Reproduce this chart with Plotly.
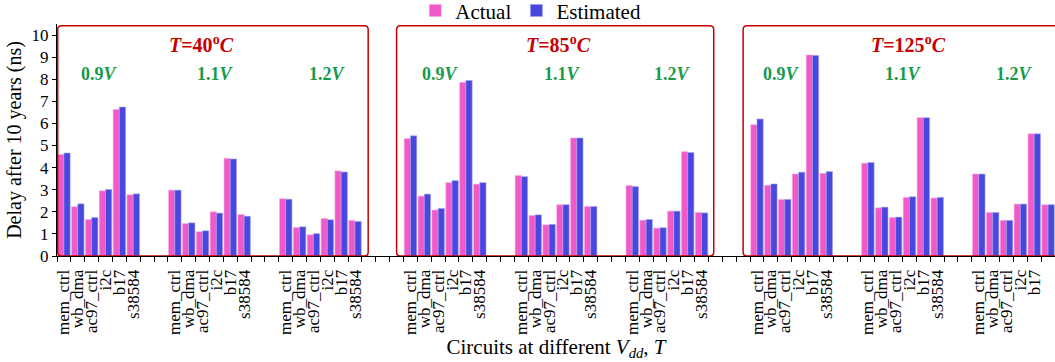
import plotly.graph_objects as go

# Circuits, operating points and measured/estimated delays (ns)
circuits = ["mem_ctrl", "wb_dma", "ac97_ctrl", "i2c", "b17", "s38584"]
temperatures = ["40", "85", "125"]
voltages = ["0.9", "1.1", "1.2"]

actual_40 = [
    [4.59, 2.23, 1.65, 2.95, 6.63, 2.77],
    [2.98, 1.47, 1.10, 2.00, 4.42, 1.88],
    [2.59, 1.29, 0.96, 1.70, 3.85, 1.61],
]
estimated_40 = [
    [4.66, 2.36, 1.74, 3.01, 6.74, 2.81],
    [2.98, 1.50, 1.14, 1.94, 4.39, 1.80],
    [2.57, 1.32, 1.01, 1.64, 3.80, 1.56],
]
actual_85 = [
    [5.31, 2.71, 2.08, 3.32, 7.86, 3.25],
    [3.64, 1.83, 1.41, 2.32, 5.34, 2.24],
    [3.19, 1.62, 1.26, 2.03, 4.72, 1.97],
]
estimated_85 = [
    [5.44, 2.80, 2.15, 3.41, 7.94, 3.32],
    [3.59, 1.86, 1.43, 2.32, 5.34, 2.24],
    [3.14, 1.65, 1.28, 2.03, 4.68, 1.95],
]
actual_125 = [
    [5.94, 3.20, 2.56, 3.71, 9.10, 3.74],
    [4.20, 2.18, 1.74, 2.65, 6.26, 2.62],
    [3.71, 1.97, 1.61, 2.35, 5.53, 2.32],
]
estimated_125 = [
    [6.20, 3.26, 2.56, 3.79, 9.07, 3.82],
    [4.23, 2.21, 1.76, 2.68, 6.26, 2.65],
    [3.71, 1.97, 1.61, 2.35, 5.53, 2.32],
]
y_ticks = list(range(0, 11))

actual = [actual_40, actual_85, actual_125]
estimated = [estimated_40, estimated_85, estimated_125]

# slot layout on the category axis: 2 empty slots between voltage groups,
# 3 empty slots between temperature groups
V_STRIDE = len(circuits) + 2
T_STRIDE = 3 * V_STRIDE + 1
N_SLOTS = 3 * T_STRIDE - 3

xs, ya, ye, labels_x, labels_t = [], [], [], [], []
for ti in range(len(temperatures)):
    for vi in range(len(voltages)):
        for ci, name in enumerate(circuits):
            pos = ti * T_STRIDE + vi * V_STRIDE + ci
            xs.append(pos)
            ya.append(actual[ti][vi][ci])
            ye.append(estimated[ti][vi][ci])
            labels_x.append(pos)
            labels_t.append(name)

SERIF = "Liberation Serif"
PINK = "#F05AC8"
BLUE = "#4848DF"
RED = "#C80000"
GREEN = "#169A4C"

fig = go.Figure()
fig.add_trace(go.Bar(x=xs, y=ya, name="Actual", marker=dict(color=PINK, line=dict(color="#F8A8E2", width=0.6))))
fig.add_trace(go.Bar(x=xs, y=ye, name="Estimated", marker=dict(color=BLUE, line=dict(color="#A0A0F0", width=0.6))))

boundaries = [k - 0.5 for k in range(N_SLOTS + 1)]

fig.update_layout(
    width=1055, height=362,
    margin=dict(l=57, r=0, t=24, b=106, autoexpand=False),
    paper_bgcolor="white", plot_bgcolor="white",
    barmode="group", bargap=0.1, bargroupgap=0,
    font=dict(family=SERIF, color="black", size=17),
    legend=dict(orientation="h", x=0.359, xanchor="left", y=1.145, yanchor="top",
                font=dict(size=21, family=SERIF), bgcolor="rgba(0,0,0,0)",
                itemwidth=30, tracegroupgap=0),
    showlegend=True,
)

fig.update_xaxes(
    range=[-0.5, N_SLOTS - 0.5],
    tickmode="array", tickvals=labels_x, ticktext=labels_t, tickangle=-90,
    ticks="outside", ticklen=6, tickcolor="rgba(0,0,0,0)",
    tickfont=dict(size=17, family=SERIF),
    minor=dict(tickmode="array", tickvals=boundaries, ticks="outside", ticklen=5,
               tickcolor="black", tickwidth=1, showgrid=False),
    showline=True, linecolor="black", linewidth=1, showgrid=False, zeroline=False,
    title=dict(text="Circuits at different <i>V</i><sub><i>dd</i></sub>, <i>T</i>",
               font=dict(size=21, family=SERIF), standoff=1),
)
fig.update_yaxes(
    range=[0, 10.5], tickmode="array", tickvals=y_ticks,
    ticks="outside", ticklen=4, tickcolor="black",
    tickfont=dict(size=17, family=SERIF),
    showline=True, linecolor="black", linewidth=1, showgrid=False, zeroline=False,
    title=dict(text="Delay after 10 years (ns)", font=dict(size=20, family=SERIF), standoff=4),
)

# rounded frames around each temperature group
def rounded_rect(x0, x1, y0, y1, rx=0.28, ry=0.17):
    return (f"M {x0 + rx},{y0} L {x1 - rx},{y0} Q {x1},{y0} {x1},{y0 + ry} "
            f"L {x1},{y1 - ry} Q {x1},{y1} {x1 - rx},{y1} L {x0 + rx},{y1} "
            f"Q {x0},{y1} {x0},{y1 - ry} L {x0},{y0 + ry} Q {x0},{y0} {x0 + rx},{y0} Z")

frames = [(-0.45, 21.95), (24.0, 46.88), (49.0, 73.5)]
for x0, x1 in frames:
    fig.add_shape(type="path", path=rounded_rect(x0, x1, 0.0, 10.42), xref="x", yref="y",
                  line=dict(color=RED, width=1.5), layer="above")

# temperature and supply-voltage captions
t_label_x = [9.96, 35.7, 60.9]
v_label_x = [[2.53, 10.9, 18.98], [27.2, 35.94, 43.94], [51.8, 60.54, 68.6]]
for ti, t in enumerate(temperatures):
    fig.add_annotation(x=t_label_x[ti], y=9.6, xref="x", yref="y", showarrow=False,
                       text=f"<b><i>T</i>={t}<sup>o</sup><i>C</i></b>",
                       font=dict(size=20, family=SERIF, color=RED))
    for vi, v in enumerate(voltages):
        fig.add_annotation(x=v_label_x[ti][vi], y=8.25, xref="x", yref="y", showarrow=False,
                           text=f"<b>{v}<i>V</i></b>",
                           font=dict(size=18, family=SERIF, color=GREEN))

fig.write_html("out.html")
